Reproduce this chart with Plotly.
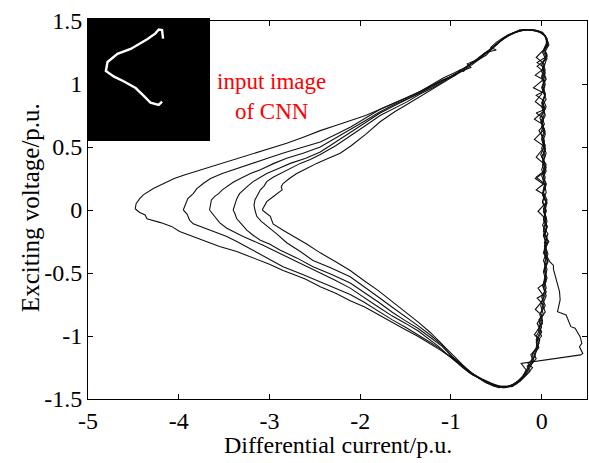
import plotly.graph_objects as go

# ---------------- data ----------------
x_tickvals = [-5, -4, -3, -2, -1, 0]
x_ticktext = ["-5", "-4", "-3", "-2", "-1", "0"]
y_tickvals = [-1.5, -1, -0.5, 0, 0.5, 1, 1.5]
y_ticktext = ["-1.5", "-1", "-0.5", "0", "0.5", "1", "1.5"]
x_title = "Differential current/p.u."
y_title = "Exciting voltage/p.u."
note_text = "input image<br>of CNN"

loop1 = [(-4.48,0.01),(-4.47,0.05),(-4.43,0.09),(-4.39,0.12),(-4.28,0.17),(-4.17,0.21),(-4.05,0.25),(-3.93,0.28),
         (-3.75,0.32),(-3.55,0.37),(-3.36,0.41),(-3.18,0.45),(-2.99,0.49),(-2.81,0.53),(-2.62,0.58),(-2.44,0.63),
         (-2.27,0.67),(-2.10,0.71),(-1.94,0.75),(-1.78,0.80),(-1.62,0.85),(-1.48,0.89),(-1.34,0.94),(-1.20,0.99),
         (-1.10,1.03),(-1.00,1.06),(-0.90,1.10),(-0.82,1.14),(-0.73,1.19),(-0.65,1.23),(-0.57,1.28),(-0.49,1.32),
         (-0.43,1.36),(-0.37,1.39),(-0.30,1.41),(-0.24,1.43),(-0.13,1.43),(-0.02,1.41),(0.04,1.38),
         (0.07,1.32),(0.03,1.27),(0.06,1.22),(-0.05,1.17),(0.03,1.13),(0.00,1.06),(0.04,1.00),(0.02,0.94),
         (-0.06,0.91),(0.02,0.87),(0.05,0.82),(0.00,0.75),(0.03,0.68),(-0.03,0.63),(0.02,0.57),(0.04,0.49),
         (0.01,0.41),(0.05,0.34),(0.02,0.27),(0.05,0.20),(0.01,0.13),(0.06,0.06),(0.03,-0.02),(0.06,-0.09),
         (0.02,-0.17),(0.07,-0.25),(0.03,-0.33),(0.05,-0.41),(0.02,-0.49),(0.05,-0.57),(-0.04,-0.62),
         (0.02,-0.68),(-0.01,-0.76),(0.02,-0.83),(-0.05,-0.90),(-0.01,-0.96),(-0.06,-1.03),(-0.04,-1.09),
         (-0.10,-1.14),(-0.11,-1.20),(-0.16,-1.26),(-0.21,-1.32),(-0.28,-1.37),(-0.36,-1.40),(-0.45,-1.40),
         (-0.55,-1.38),(-0.65,-1.35),
         (-0.76,-1.31),(-0.87,-1.25),(-1.00,-1.17),(-1.12,-1.11),(-1.23,-1.06),(-1.37,-1.00),(-1.50,-0.95),
         (-1.65,-0.89),(-1.80,-0.83),(-1.95,-0.77),(-2.11,-0.72),(-2.27,-0.66),(-2.44,-0.61),(-2.60,-0.55),
         (-2.74,-0.51),(-2.85,-0.48),(-3.00,-0.43),(-3.18,-0.38),(-3.36,-0.33),(-3.55,-0.29),(-3.77,-0.23),
         (-3.99,-0.17),(-4.08,-0.13),(-4.20,-0.10),(-4.35,-0.07),(-4.37,-0.04),(-4.43,-0.02),(-4.48,0.01)]

loop2 = [(-3.95,0.00),(-3.92,0.05),(-3.90,0.09),(-3.84,0.13),(-3.80,0.17),(-3.73,0.21),(-3.65,0.25),(-3.52,0.29),
         (-3.40,0.32),(-3.27,0.35),(-3.14,0.38),(-2.98,0.42),(-2.81,0.46),(-2.63,0.50),(-2.44,0.54),(-2.27,0.60),
         (-2.10,0.66),(-1.94,0.73),(-1.78,0.80),(-1.62,0.85),(-1.48,0.89),(-1.34,0.94),(-1.20,1.00),(-1.08,1.05),
         (-0.96,1.09),(-0.85,1.13),(-0.74,1.18),(-0.62,1.25),(-0.50,1.27),(-0.56,1.29),(-0.50,1.33),(-0.42,1.37),
         (-0.33,1.40),(-0.24,1.42),(-0.14,1.43),(-0.04,1.42),(0.03,1.39),(0.05,1.35),
         (0.06,1.30),(0.01,1.25),(0.05,1.19),(0.02,1.12),(-0.07,1.07),(0.03,1.03),(0.00,0.97),(0.04,0.91),
         (0.01,0.85),(0.03,0.79),(-0.02,0.73),(0.02,0.67),(-0.01,0.61),(0.03,0.55),(0.00,0.49),(0.04,0.43),
         (0.01,0.36),(0.03,0.30),(-0.07,0.25),(0.03,0.20),(0.01,0.13),(0.05,0.06),(0.02,-0.01),(0.05,-0.08),
         (0.02,-0.15),(0.06,-0.22),(0.03,-0.29),(0.07,-0.35),(0.03,-0.42),(0.05,-0.50),(0.02,-0.58),
         (0.05,-0.65),(0.01,-0.72),(-0.07,-0.79),(0.01,-0.84),(-0.03,-0.91),(0.00,-0.97),(-0.05,-1.03),
         (-0.06,-1.10),(-0.12,-1.15),(-0.09,-1.19),(-0.13,-1.25),(-0.18,-1.31),(-0.24,-1.36),(-0.32,-1.39),
         (-0.40,-1.41),(-0.50,-1.40),(-0.60,-1.37),(-0.70,-1.33),
         (-0.80,-1.29),(-0.90,-1.23),(-0.96,-1.18),(-0.93,-1.21),(-1.02,-1.16),(-1.12,-1.10),(-1.23,-1.05),
         (-1.36,-0.99),(-1.50,-0.93),(-1.65,-0.87),(-1.80,-0.80),(-1.96,-0.73),(-2.11,-0.67),(-2.27,-0.62),
         (-2.44,-0.57),(-2.64,-0.51),(-2.85,-0.45),(-3.05,-0.37),(-3.25,-0.29),(-3.36,-0.25),(-3.47,-0.21),
         (-3.62,-0.17),(-3.77,-0.13),(-3.84,-0.11),(-3.88,-0.08),(-3.91,-0.03),(-3.95,0.00)]

loop3 = [(-3.66,0.00),(-3.65,0.04),(-3.64,0.08),(-3.60,0.11),(-3.56,0.13),(-3.52,0.16),(-3.47,0.185),(-3.40,0.22),
         (-3.32,0.25),(-3.21,0.29),(-3.10,0.32),(-2.95,0.37),(-2.81,0.41),(-2.63,0.45),(-2.44,0.50),(-2.27,0.57),
         (-2.10,0.64),(-1.94,0.71),(-1.78,0.78),(-1.62,0.84),(-1.48,0.88),(-1.34,0.93),(-1.20,0.99),(-1.06,1.04),
         (-0.95,1.07),(-0.90,1.11),(-0.86,1.10),(-0.80,1.15),(-0.70,1.19),(-0.62,1.24),(-0.54,1.29),(-0.46,1.34),
         (-0.38,1.38),(-0.30,1.41),(-0.20,1.43),(-0.10,1.43),(-0.01,1.41),(0.04,1.38),
         (0.07,1.31),(0.02,1.26),(0.05,1.21),(0.00,1.15),(0.04,1.09),(0.01,1.03),(-0.09,0.97),(0.02,0.93),
         (0.05,0.88),(0.00,0.82),(0.03,0.76),(-0.01,0.70),(0.03,0.64),(-0.08,0.56),(0.02,0.51),(0.05,0.45),
         (0.01,0.39),(0.04,0.33),(0.00,0.27),(0.05,0.21),(0.02,0.14),(0.06,0.08),(0.02,0.01),(0.05,-0.06),
         (0.01,-0.12),(0.07,-0.19),(0.03,-0.26),(0.06,-0.33),(0.02,-0.40),(0.06,-0.47),(0.03,-0.55),
         (0.05,-0.62),(0.00,-0.69),(0.04,-0.76),(-0.02,-0.83),(0.01,-0.90),(-0.08,-0.99),(-0.02,-1.03),
         (-0.05,-1.10),(-0.08,-1.17),(-0.15,-1.22),(-0.10,-1.25),(-0.17,-1.31),(-0.24,-1.36),(-0.32,-1.40),
         (-0.42,-1.41),(-0.52,-1.40),(-0.62,-1.37),(-0.72,-1.32),
         (-0.84,-1.26),(-0.95,-1.19),(-1.05,-1.14),(-1.14,-1.08),(-1.23,-1.03),(-1.36,-0.96),(-1.50,-0.90),
         (-1.65,-0.84),(-1.80,-0.77),(-1.96,-0.69),(-2.11,-0.62),(-2.27,-0.56),(-2.44,-0.50),(-2.64,-0.43),
         (-2.85,-0.36),(-3.07,-0.28),(-3.29,-0.21),(-3.38,-0.18),(-3.47,-0.145),(-3.55,-0.10),(-3.60,-0.05),
         (-3.66,0.00)]

loop4 = [(-3.40,0.00),(-3.38,0.04),(-3.36,0.09),(-3.33,0.13),(-3.29,0.16),(-3.24,0.19),(-3.18,0.225),(-3.10,0.26),
         (-3.03,0.29),(-2.90,0.33),(-2.77,0.37),(-2.60,0.41),(-2.44,0.46),(-2.27,0.54),(-2.10,0.62),(-1.94,0.70),
         (-1.78,0.77),(-1.62,0.83),(-1.48,0.88),(-1.34,0.93),(-1.20,0.98),(-1.08,1.03),(-0.98,1.07),(-0.88,1.11),
         (-0.78,1.16),(-0.68,1.21),(-0.60,1.25),(-0.52,1.30),(-0.44,1.35),(-0.35,1.39),(-0.26,1.42),(-0.16,1.43),
         (-0.06,1.42),(0.02,1.40),(0.06,1.36),
         (0.05,1.32),(0.02,1.27),(-0.06,1.21),(0.03,1.16),(0.00,1.10),(0.04,1.04),(0.01,0.98),(0.04,0.92),
         (0.00,0.85),(0.03,0.79),(-0.08,0.72),(0.01,0.68),(0.04,0.62),(0.00,0.56),(0.03,0.50),(-0.01,0.44),
         (0.03,0.38),(0.00,0.32),(0.04,0.26),(0.01,0.20),(-0.06,0.16),(0.03,0.12),(0.01,0.06),(0.05,-0.01),
         (0.02,-0.08),(0.06,-0.14),(0.03,-0.20),(0.08,-0.25),(0.03,-0.31),(0.06,-0.37),(0.09,-0.41),
         (0.13,-0.44),(0.13,-0.47),(0.16,-0.556),(0.197,-0.648),(0.204,-0.714),(0.175,-0.807),
         (0.27,-0.833),(0.285,-0.86),(0.322,-0.926),(0.369,-0.939),(0.388,-0.966),(0.424,-1.005),(0.443,-1.058),
         (0.417,-1.085),(0.454,-1.138),(0.43,-1.15),(-0.226,-1.217),(-0.17,-1.27),(-0.21,-1.33),(-0.28,-1.38),
         (-0.37,-1.40),(-0.47,-1.40),(-0.57,-1.37),(-0.66,-1.34),
         (-0.76,-1.30),(-0.87,-1.24),(-0.98,-1.17),(-1.10,-1.08),(-1.23,-1.01),(-1.36,-0.94),(-1.50,-0.88),
         (-1.65,-0.81),(-1.80,-0.73),(-1.96,-0.65),(-2.11,-0.58),(-2.32,-0.51),(-2.52,-0.45),(-2.70,-0.38),
         (-2.88,-0.32),(-3.00,-0.27),(-3.10,-0.24),(-3.18,-0.20),(-3.25,-0.16),(-3.31,-0.11),(-3.36,-0.07),
         (-3.38,-0.03),(-3.40,0.00)]

loop5 = [(-3.16,0.00),(-3.17,0.04),(-3.16,0.08),(-3.13,0.12),(-3.10,0.16),(-3.06,0.19),(-3.03,0.225),(-2.96,0.26),
         (-2.88,0.29),(-2.77,0.33),(-2.66,0.37),(-2.55,0.40),(-2.44,0.44),(-2.27,0.51),(-2.10,0.59),(-1.94,0.67),
         (-1.78,0.75),(-1.62,0.81),(-1.48,0.86),(-1.34,0.92),(-1.20,0.97),(-1.08,1.02),(-0.97,1.07),(-0.86,1.11),
         (-0.78,1.13),(-0.82,1.16),(-0.72,1.19),(-0.63,1.24),(-0.55,1.28),(-0.47,1.33),(-0.40,1.37),(-0.32,1.40),
         (-0.22,1.43),(-0.12,1.43),(-0.03,1.42),(0.04,1.38),
         (0.07,1.33),(0.03,1.28),(0.06,1.23),(0.01,1.17),(0.04,1.11),(0.00,1.05),(0.03,0.99),(0.00,0.92),
         (-0.07,0.86),(0.02,0.81),(0.04,0.75),(0.00,0.69),(0.03,0.63),(0.00,0.57),(0.04,0.51),(-0.06,0.42),
         (0.02,0.37),(0.05,0.31),(0.01,0.25),(0.04,0.19),(0.01,0.12),(0.05,0.06),(-0.04,-0.01),(0.03,-0.06),
         (0.06,-0.13),(0.02,-0.20),(0.05,-0.27),(0.02,-0.34),(0.07,-0.41),(0.03,-0.48),(0.06,-0.54),
         (0.02,-0.61),(0.05,-0.68),(0.01,-0.75),(0.04,-0.81),(-0.03,-0.87),(0.00,-0.93),(-0.06,-1.00),
         (-0.03,-1.06),(-0.09,-1.13),(-0.06,-1.18),(-0.13,-1.24),(-0.18,-1.30),(-0.25,-1.35),
         (-0.33,-1.39),(-0.43,-1.41),(-0.53,-1.39),(-0.63,-1.36),(-0.70,-1.33),
         (-0.80,-1.28),(-0.90,-1.22),(-0.99,-1.16),(-1.10,-1.07),(-1.23,-0.99),(-1.36,-0.92),(-1.50,-0.85),
         (-1.65,-0.77),(-1.80,-0.69),(-1.96,-0.61),(-2.11,-0.53),(-2.32,-0.46),(-2.52,-0.40),(-2.66,-0.33),
         (-2.81,-0.26),(-2.92,-0.19),(-3.03,-0.13),(-3.09,-0.09),(-3.14,-0.05),(-3.16,0.00)]

loop6 = [(-3.08,0.00),(-3.06,0.03),(-3.03,0.066),(-2.96,0.105),(-2.91,0.13),(-2.86,0.16),(-2.87,0.185),(-2.85,0.21),
         (-2.78,0.25),(-2.70,0.29),(-2.59,0.33),(-2.48,0.37),(-2.35,0.41),(-2.22,0.45),(-2.10,0.51),(-1.94,0.60),
         (-1.78,0.70),(-1.62,0.78),(-1.48,0.84),(-1.34,0.90),(-1.20,0.96),(-1.08,1.01),(-0.97,1.06),(-0.88,1.10),
         (-0.79,1.14),(-0.70,1.19),(-0.61,1.23),(-0.53,1.29),(-0.45,1.34),(-0.37,1.38),(-0.28,1.41),(-0.18,1.43),
         (-0.08,1.43),(0.01,1.41),(0.05,1.37),
         (0.08,1.31),(0.04,1.26),(0.06,1.20),(-0.05,1.14),(0.02,1.10),(0.05,1.04),(0.01,0.98),(0.04,0.92),
         (0.01,0.86),(0.04,0.80),(-0.06,0.77),(0.02,0.73),(0.00,0.66),(0.04,0.60),(0.01,0.54),(0.04,0.48),
         (0.00,0.42),(0.05,0.36),(0.01,0.30),(-0.06,0.26),(0.03,0.21),(0.05,0.14),(0.01,0.07),(0.05,0.00),
         (0.02,-0.07),(0.06,-0.13),(0.02,-0.20),(0.06,-0.27),(0.03,-0.34),(0.07,-0.40),(0.03,-0.47),
         (0.05,-0.54),(0.01,-0.60),(0.04,-0.66),(-0.05,-0.70),(0.02,-0.75),(-0.01,-0.82),(0.01,-0.88),
         (-0.04,-0.95),(0.00,-1.00),(-0.06,-1.05),(-0.03,-1.09),(-0.08,-1.14),(-0.10,-1.21),(-0.16,-1.24),
         (-0.13,-1.28),(-0.20,-1.33),(-0.28,-1.38),(-0.37,-1.40),(-0.47,-1.41),(-0.57,-1.38),(-0.66,-1.35),
         (-0.76,-1.30),(-0.87,-1.23),(-0.98,-1.15),(-1.10,-1.06),(-1.23,-0.97),(-1.36,-0.89),(-1.50,-0.81),
         (-1.65,-0.73),(-1.80,-0.64),(-1.96,-0.56),(-2.11,-0.48),(-2.27,-0.41),(-2.44,-0.34),(-2.59,-0.27),
         (-2.74,-0.21),(-2.85,-0.16),(-2.96,-0.11),(-2.99,-0.05),(-3.08,0.00)]

loops = [loop1, loop2, loop3, loop4, loop5, loop6]

# white stroke of the CNN input image (image pixel units, 28x28)
stroke_u = [17.23, 17.0, 16.23, 15.48, 13.59, 9.79, 6.76, 4.48, 4.10, 5.99, 8.26, 10.93, 12.45, 14.34, 16.23, 17.0]
stroke_v = [4.10, 2.12, 1.98, 2.89, 4.26, 6.53, 7.67, 9.56, 11.68, 12.98, 14.11, 15.64, 17.14, 19.05, 19.58, 18.83]
image_size = 28

# ---------------- figure ----------------
FONT = "Liberation Serif"
fig = go.Figure()
for lp in loops:
    xs, ys = zip(*lp)
    fig.add_trace(go.Scatter(x=list(xs), y=list(ys), mode="lines",
                             line=dict(color="#111111", width=1.1),
                             showlegend=False, hoverinfo="skip"))

fig.add_trace(go.Scatter(x=stroke_u, y=stroke_v, mode="lines", xaxis="x2", yaxis="y2",
                         line=dict(color="white", width=2.4), showlegend=False, hoverinfo="skip"))

axis_common = dict(showgrid=False, zeroline=False, showline=True, linecolor="black", linewidth=1,
                   mirror="ticks", ticks="inside", ticklen=5, tickwidth=1, tickcolor="black",
                   tickfont=dict(family=FONT, size=24, color="black"))

fig.update_layout(
    width=589, height=463,
    margin=dict(l=88, r=2, t=21, b=64),
    paper_bgcolor="white", plot_bgcolor="rgba(0,0,0,0)",
    xaxis=dict(range=[-5, 0.5], tickvals=x_tickvals, ticktext=x_ticktext, **axis_common),
    yaxis=dict(range=[-1.5, 1.5], tickvals=y_tickvals, ticktext=y_ticktext, **axis_common),
    xaxis2=dict(domain=[0, 0.2445], range=[0, image_size], anchor="y2", visible=False, fixedrange=True),
    yaxis2=dict(domain=[0.6825, 1.0], range=[image_size, 0], anchor="x2", visible=False, fixedrange=True),
    shapes=[dict(type="rect", xref="paper", yref="paper", x0=-0.002, x1=0.2445, y0=0.6825, y1=1.008,
                 fillcolor="black", line=dict(width=0), layer="below")],
    annotations=[
        dict(text=note_text, xref="paper", yref="paper", x=0.3687, y=0.878,
             showarrow=False, align="center", font=dict(family=FONT, size=23, color="red")),
        dict(text=x_title, xref="paper", yref="paper", x=0.5, y=-0.121, xanchor="center", yanchor="middle",
             showarrow=False, font=dict(family=FONT, size=24, color="black")),
        dict(text=y_title, xref="paper", yref="paper", x=-0.1162, y=0.505, xanchor="center", yanchor="middle",
             textangle=-90, showarrow=False, font=dict(family=FONT, size=25, color="black")),
    ],
)

fig.write_html("out.html")
